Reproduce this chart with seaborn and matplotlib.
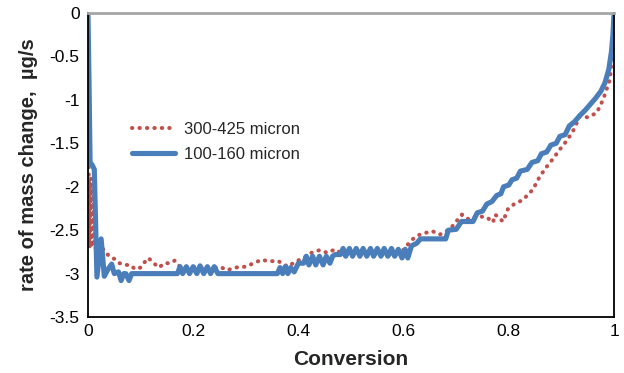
import pandas as pd
import matplotlib
matplotlib.use("Agg")
import matplotlib.pyplot as plt
import seaborn as sns

# =========================================
# Data
# =========================================
coarse_label = "300-425 micron"
coarse_x = [0.001, 0.003, 0.005, 0.007, 0.010, 0.012, 0.020, 0.030, 0.040, 0.050,
            0.060, 0.070, 0.080, 0.090, 0.100, 0.110, 0.115, 0.125, 0.135, 0.145,
            0.155, 0.165, 0.175, 0.190, 0.210, 0.230, 0.250, 0.265, 0.280, 0.300,
            0.315, 0.330, 0.345, 0.360, 0.380, 0.395, 0.410, 0.425, 0.440, 0.455,
            0.470, 0.490, 0.510, 0.530, 0.555, 0.575, 0.595, 0.610, 0.618, 0.631,
            0.654, 0.669, 0.688, 0.700, 0.711, 0.725, 0.740, 0.758, 0.770, 0.774,
            0.789, 0.798, 0.810, 0.827, 0.846, 0.859, 0.872, 0.885, 0.897, 0.910,
            0.922, 0.935, 0.950, 0.967, 0.979, 0.992, 0.998, 1.000]
coarse_y = [-1.60, -2.70, -1.90, -2.70, -2.00, -2.70, -2.72, -2.72, -2.80, -2.83,
            -2.88, -2.90, -2.90, -2.95, -2.93, -2.85, -2.82, -2.88, -2.93, -2.88,
            -2.88, -2.85, -2.92, -2.93, -2.92, -2.95, -2.92, -2.96, -2.93, -2.92,
            -2.88, -2.84, -2.86, -2.85, -2.92, -2.86, -2.82, -2.76, -2.73, -2.76,
            -2.72, -2.80, -2.79, -2.78, -2.78, -2.78, -2.76, -2.65, -2.60, -2.55,
            -2.51, -2.55, -2.49, -2.40, -2.32, -2.38, -2.34, -2.35, -2.41, -2.32,
            -2.40, -2.26, -2.20, -2.15, -2.03, -1.88, -1.77, -1.67, -1.57, -1.47,
            -1.36, -1.19, -1.20, -1.15, -1.00, -0.77, -0.42, -0.10]

fine_label = "100-160 micron"
fine_x = [0.000, 0.002, 0.004, 0.008, 0.012, 0.017, 0.025, 0.031, 0.038, 0.045,
          0.050, 0.058, 0.063, 0.068, 0.072, 0.078, 0.083, 0.170, 0.175, 0.180,
          0.187, 0.193, 0.200, 0.207, 0.213, 0.220, 0.227, 0.233, 0.240, 0.247,
          0.360, 0.365, 0.370, 0.375, 0.380, 0.385, 0.392, 0.400, 0.410, 0.415,
          0.420, 0.427, 0.433, 0.440, 0.447, 0.453, 0.460, 0.465, 0.470, 0.480,
          0.485, 0.490, 0.497, 0.503, 0.510, 0.517, 0.523, 0.530, 0.537, 0.543,
          0.550, 0.557, 0.563, 0.570, 0.577, 0.583, 0.590, 0.597, 0.603, 0.608,
          0.615, 0.625, 0.632, 0.680, 0.685, 0.700, 0.710, 0.732, 0.740, 0.750,
          0.758, 0.768, 0.777, 0.785, 0.790, 0.800, 0.806, 0.815, 0.822, 0.835,
          0.844, 0.855, 0.862, 0.872, 0.880, 0.890, 0.897, 0.907, 0.915, 0.925,
          0.935, 0.945, 0.955, 0.965, 0.975, 0.983, 0.990, 0.995, 0.998, 1.000]
fine_y = [0.00, -0.80, -1.72, -1.75, -1.80, -3.04, -2.60, -3.03, -2.95, -2.89,
          -3.00, -2.98, -3.08, -3.00, -3.00, -3.08, -3.00, -3.00, -2.92, -3.00,
          -2.92, -3.00, -2.92, -3.00, -2.91, -3.00, -2.92, -3.00, -2.92, -3.00,
          -3.00, -2.93, -3.00, -2.92, -3.00, -2.93, -2.98, -2.88, -2.88, -2.80,
          -2.90, -2.80, -2.90, -2.80, -2.90, -2.80, -2.88, -2.80, -2.78, -2.78,
          -2.71, -2.80, -2.71, -2.80, -2.71, -2.80, -2.71, -2.80, -2.71, -2.80,
          -2.71, -2.80, -2.71, -2.80, -2.71, -2.80, -2.72, -2.82, -2.72, -2.82,
          -2.68, -2.65, -2.60, -2.60, -2.50, -2.49, -2.40, -2.40, -2.30, -2.28,
          -2.20, -2.17, -2.10, -2.08, -2.00, -1.98, -1.92, -1.90, -1.82, -1.80,
          -1.72, -1.70, -1.62, -1.60, -1.52, -1.50, -1.42, -1.40, -1.30, -1.25,
          -1.18, -1.12, -1.05, -0.98, -0.90, -0.80, -0.65, -0.45, -0.25, 0.00]

x_ticks = [0, 0.2, 0.4, 0.6, 0.8, 1]
x_tick_labels = ["0", "0.2", "0.4", "0.6", "0.8", "1"]
y_ticks = [0, -0.5, -1, -1.5, -2, -2.5, -3, -3.5]
y_tick_labels = ["0", "-0.5", "-1", "-1.5", "-2", "-2.5", "-3", "-3.5"]

coarse = pd.DataFrame({"conversion": coarse_x, "rate": coarse_y})
fine = pd.DataFrame({"conversion": fine_x, "rate": fine_y})

# =========================================
# Plot
# =========================================
sns.set_style("white")
plt.rcParams['font.family'] = ['Liberation Sans', 'DejaVu Sans']

fig = plt.figure(figsize=(6.24, 3.73), dpi=100)
ax = fig.add_axes([0.141, 0.150, 0.843, 0.815])

sns.lineplot(data=coarse, x="conversion", y="rate", ax=ax, sort=False, estimator=None,
             color="#C0504D", linewidth=2.9, linestyle=(0, (0.1, 1.75)),
             dash_capstyle="round", label=coarse_label)
sns.lineplot(data=fine, x="conversion", y="rate", ax=ax, sort=False, estimator=None,
             color="#4A7EBB", linewidth=3.7, solid_capstyle="round",
             label=fine_label)

ax.set_xlim(0, 1)
ax.set_ylim(-3.5, 0)
ax.set_xticks(x_ticks)
ax.set_xticklabels(x_tick_labels)
ax.set_yticks(y_ticks)
ax.set_yticklabels(y_tick_labels)
ax.tick_params(axis="both", length=0, labelsize=12.5, colors="black")
ax.tick_params(axis="y", pad=6)
ax.tick_params(axis="x", pad=5)

ax.set_xlabel("Conversion", fontsize=15, fontweight="bold", labelpad=8)
ax.set_ylabel("rate of mass change,  \u00b5g/s", fontsize=14.5, fontweight="bold", labelpad=8)

for side in ["left", "bottom", "right"]:
    ax.spines[side].set_color("black")
    ax.spines[side].set_linewidth(1.3)
ax.spines["top"].set_color("#A6A6A6")
ax.spines["top"].set_linewidth(2)

ax.legend(loc="upper left", bbox_to_anchor=(0.055, 0.69), frameon=False,
          fontsize=12, handlelength=2.6, handletextpad=0.5, labelspacing=0.6)

fig.savefig("out.png", dpi=100)
